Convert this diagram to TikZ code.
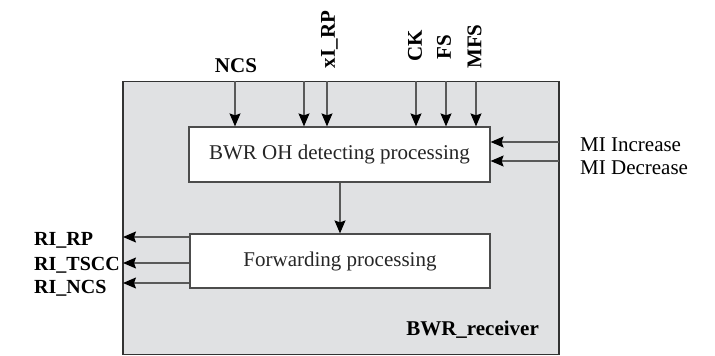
\documentclass[tikz,border=0pt]{standalone}
\usepackage{fontspec}
\setmainfont{Liberation Serif}
\usetikzlibrary{arrows.meta}
\begin{document}
\begin{tikzpicture}[x=1pt,y=-1pt,
  sig/.style={draw=black!65, line width=1.2pt, -{Stealth[length=13pt,width=11pt,inset=2pt,black]}},
  procbox/.style={draw=black!70, line width=1.2pt, fill=white, minimum width=301pt, minimum height=55pt, inner sep=0pt, font=\fontsize{21}{25}\selectfont, text=black!85},
  blbl/.style={font=\bfseries\fontsize{21}{25}\selectfont, inner sep=0pt},
  olbl/.style={font=\bfseries\fontsize{20}{24}\selectfont, inner sep=0pt, anchor=base west},
  mlbl/.style={font=\fontsize{21}{25}\selectfont, inner sep=0pt}]
\useasboundingbox (0,0) rectangle (715,356);
\node[draw=black!80, line width=1.8pt, fill={rgb,255:red,224;green,225;blue,227}, minimum width=436pt, minimum height=273pt, inner sep=0pt] (outer) at (341,218) {};
\node[procbox] (det) at (339.5,154.5) {BWR OH detecting processing};
\node[procbox, minimum width=300pt, minimum height=54pt] (fwd) at (340,261) {Forwarding processing};
\node[blbl, anchor=base east] (name) at (539,335) {BWR\_receiver};

% top inputs
\coordinate (tNCS) at (235,81);
\coordinate (tA) at (304,81);
\coordinate (tB) at (327,81);
\coordinate (tCK) at (416,81);
\coordinate (tFS) at (446,81);
\coordinate (tMFS) at (476,81);
\foreach \c in {tNCS,tA,tB,tCK,tFS,tMFS} \draw[sig] (\c) -- (\c |- det.north);
\node[blbl, anchor=base] (lNCS) at (236,72) {NCS};
\node[blbl, rotate=90] (lxI) at (329.5,39.5) {xI\_RP};
\node[blbl, rotate=90] (lCK) at (415,46) {CK};
\node[blbl, rotate=90] (lFS) at (444,47) {FS};
\node[blbl, rotate=90] (lMFS) at (474.5,46.5) {MFS};

% right inputs
\coordinate (rInc) at (559,142);
\coordinate (rDec) at (559,161);
\draw[sig] (rInc) -- (rInc -| det.east);
\draw[sig] (rDec) -- (rDec -| det.east);
\node[mlbl, anchor=base west] (lInc) at (580,151) {MI Increase};
\node[mlbl, anchor=base west] (lDec) at (580,174) {MI Decrease};

% internal
\draw[sig] (det.south -| fwd.north) -- (fwd.north);

% left outputs
\coordinate (oRP) at (123,237);
\coordinate (oTS) at (123,263);
\coordinate (oNC) at (123,283);
\draw[sig] (oRP -| fwd.west) -- (oRP);
\draw[sig] (oTS -| fwd.west) -- (oTS);
\draw[sig] (oNC -| fwd.west) -- (oNC);
\node[olbl] (lRP) at (34,245) {RI\_RP};
\node[olbl] (lTS) at (34,270) {RI\_TSCC};
\node[olbl] (lNC) at (34,293) {RI\_NCS};
\end{tikzpicture}
\end{document}
